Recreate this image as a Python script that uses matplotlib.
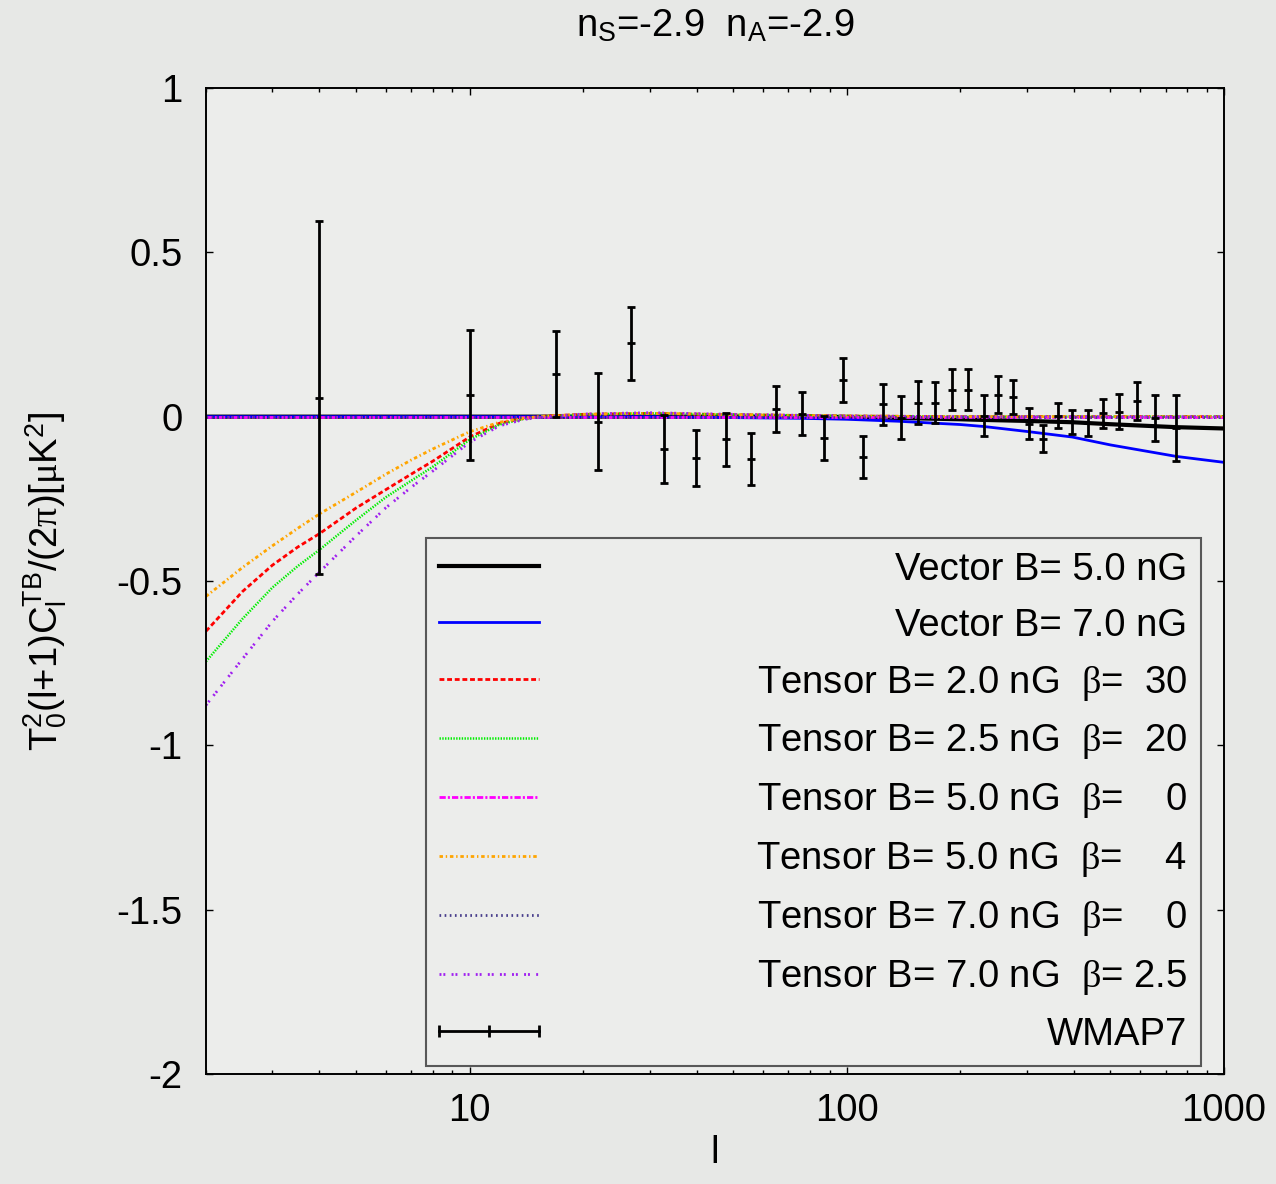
import matplotlib
matplotlib.use("Agg")
import matplotlib.pyplot as plt
from matplotlib.lines import Line2D
from matplotlib.legend_handler import HandlerLine2D
from matplotlib.ticker import FixedLocator, LogLocator, NullFormatter, FuncFormatter

plt.rcParams['font.family'] = ['Liberation Sans', 'DejaVu Sans']
plt.rcParams['mathtext.fontset'] = 'custom'
plt.rcParams['mathtext.rm'] = 'Liberation Serif'
plt.rcParams['mathtext.it'] = 'Liberation Serif:italic'
plt.rcParams['axes.unicode_minus'] = False
plt.rcParams['lines.scale_dashes'] = False

FS = 27.5

"""DADOS"""
# tensor curves
ell_t = [2, 2.5, 3, 3.5, 4, 5, 6, 7, 8, 10, 12, 14, 16, 20, 30, 50, 100, 200, 500, 1000]
t_b20_beta30 = [-0.653, -0.532, -0.452, -0.397, -0.356, -0.278, -0.222, -0.175, -0.135, -0.062,
                -0.020, -0.005, 0.002, 0.007, 0.010, 0.006, 0.002, 0.0, 0.0, 0.0]
t_b25_beta20 = [-0.745, -0.615, -0.520, -0.455, -0.405, -0.315, -0.245, -0.195, -0.152, -0.070,
                -0.024, -0.006, 0.001, 0.007, 0.010, 0.006, 0.002, 0.0, 0.0, 0.0]
t_b50_beta0 = [0.0] * 20
t_b50_beta4 = [-0.547, -0.459, -0.393, -0.340, -0.296, -0.230, -0.175, -0.132, -0.098, -0.046,
               -0.017, -0.004, 0.002, 0.007, 0.010, 0.006, 0.002, 0.0, 0.0, 0.0]
t_b70_beta0 = [0.0] * 20
t_b70_beta25 = [-0.878, -0.737, -0.623, -0.540, -0.473, -0.363, -0.277, -0.215, -0.165, -0.078,
                -0.028, -0.008, 0.000, 0.008, 0.012, 0.007, 0.002, 0.0, 0.0, 0.0]

# vector curves
ell_v = [2, 10, 30, 50, 75, 100, 137, 200, 231, 300, 396, 500, 748, 1000]
v_b50 = [0, 0, 0, 0, 0, -0.001, -0.004, -0.008, -0.010, -0.013, -0.017, -0.023, -0.032, -0.036]
v_b70 = [0, 0, 0, -0.003, -0.005, -0.008, -0.014, -0.024, -0.030, -0.045, -0.062, -0.086, -0.121, -0.139]

# WMAP7 TB
wmap_l = [4, 10, 16.9, 21.9, 26.8, 32.8, 39.8, 47.7, 55.7, 64.8, 75.9, 86.9, 97.5, 110.7,
          124.5, 139.6, 154.5, 171.4, 190.1, 209.3, 230.5, 252, 276.7, 304, 331, 363, 396,
          435, 478.6, 527, 587, 657, 748]
wmap_cl = [0.058, 0.067, 0.130, -0.015, 0.223, -0.098, -0.126, -0.069, -0.128, 0.024, 0.009,
           -0.066, 0.112, -0.122, 0.037, -0.003, 0.043, 0.043, 0.082, 0.082, 0.003, 0.067,
           0.060, -0.022, -0.067, 0.003, -0.017, -0.020, 0.010, 0.015, 0.047, -0.004, -0.034]
wmap_err = [0.536, 0.198, 0.130, 0.148, 0.110, 0.103, 0.085, 0.081, 0.079, 0.070, 0.066,
            0.067, 0.066, 0.064, 0.063, 0.065, 0.064, 0.063, 0.063, 0.062, 0.062, 0.056,
            0.053, 0.047, 0.042, 0.039, 0.036, 0.039, 0.045, 0.053, 0.058, 0.070, 0.101]

labels = ['Vector B= 5.0 nG',
          'Vector B= 7.0 nG',
          r'Tensor B= 2.0 nG  $\mathrm{\beta}$=  30',
          r'Tensor B= 2.5 nG  $\mathrm{\beta}$=  20',
          r'Tensor B= 5.0 nG  $\mathrm{\beta}$=    0',
          r'Tensor B= 5.0 nG  $\mathrm{\beta}$=    4',
          r'Tensor B= 7.0 nG  $\mathrm{\beta}$=    0',
          r'Tensor B= 7.0 nG  $\mathrm{\beta}$= 2.5',
          'WMAP7']

"""GRAFICO"""
fig = plt.figure(figsize=(12.76, 11.84), dpi=100, facecolor='#e7e8e6')
ax = fig.add_axes([0.1614, 0.0929, 0.7978, 0.8328], facecolor='#ecedeb')

h = []
h += ax.plot(ell_v, v_b50, color='black', lw=3.0)
h += ax.plot(ell_v, v_b70, color='#0000ff', lw=2.0)
h += ax.plot(ell_t, t_b20_beta30, color='#ff0000', lw=2.0, dashes=(3.5, 2))
h += ax.plot(ell_t, t_b25_beta20, color='#00ee00', lw=1.8, dashes=(1, 1))
h += ax.plot(ell_t, t_b50_beta0, color='#ff00ff', lw=2.0, dashes=(4.5, 1.5, 1.5, 1.5))
h += ax.plot(ell_t, t_b50_beta4, color='#ffa500', lw=2.0, dashes=(2.5, 2, 1, 2))
h += ax.plot(ell_t, t_b70_beta0, color='#483d8b', lw=2.0, dashes=(1.2, 2.5))
h += ax.plot(ell_t, t_b70_beta25, color='#a020f0', lw=2.0, dashes=(1.4, 1.4, 1.4, 4.5))

ax.errorbar(wmap_l, wmap_cl, yerr=wmap_err, fmt='_', ms=6, mew=2, color='black',
            ecolor='black', elinewidth=2, capsize=3, capthick=2, zorder=5)
wmap_proxy = Line2D([], [], color='black', lw=2, marker='|', ms=9, mew=2)
h.append(wmap_proxy)

ax.set_xscale('log')
ax.set_xlim(2, 1000)
ax.set_ylim(-2, 1)
ax.xaxis.set_major_locator(FixedLocator([10, 100, 1000]))
ax.xaxis.set_major_formatter(FuncFormatter(lambda v, p: '%d' % v))
ax.xaxis.set_minor_locator(LogLocator(base=10, subs=range(2, 10)))
ax.xaxis.set_minor_formatter(NullFormatter())
ax.yaxis.set_major_locator(FixedLocator([-2, -1.5, -1, -0.5, 0, 0.5, 1]))
ax.yaxis.set_major_formatter(FuncFormatter(lambda v, p: '%g' % v))

ax.tick_params(which='both', direction='in', top=True, right=True, width=1.0, labelsize=FS)
ax.tick_params(which='major', length=5)
ax.tick_params(which='minor', length=3)
ax.tick_params(axis='x', pad=14)
ax.tick_params(axis='y', pad=17)
for s in ax.spines.values():
    s.set_linewidth(1.4)

ax.set_title(r'n$_\mathregular{S}$=-2.9  n$_\mathregular{A}$=-2.9', fontsize=FS, pad=37)
ax.set_xlabel('l', fontsize=FS, labelpad=4)
ax.set_ylabel(r'T$_\mathregular{0}^\mathregular{2}$(l+1)C$_\mathregular{l}^\mathregular{TB}$'
              r'/(2$\mathrm{\pi}$)[$\mathrm{\mu}$K$^\mathregular{2}$]', fontsize=FS, labelpad=34)

leg = ax.legend(h, labels, loc='lower right', bbox_to_anchor=(0.977, 0.008), borderaxespad=0,
                fontsize=FS, handlelength=2.6, handletextpad=5.7, borderpad=0.35,
                labelspacing=0.52, fancybox=False, frameon=True, facecolor='none',
                edgecolor='#333333',
                handler_map={wmap_proxy: HandlerLine2D(numpoints=3, marker_pad=0)})
leg.get_frame().set_linewidth(1.5)

# textos da legenda alinhados a direita
fig.canvas.draw()
r = fig.canvas.get_renderer()
larg = [t.get_window_extent(r).width for t in leg.get_texts()]
m = max(larg)
for t, w in zip(leg.get_texts(), larg):
    t.set_x(m - w)

plt.savefig('out.png', dpi=100, facecolor=fig.get_facecolor())
